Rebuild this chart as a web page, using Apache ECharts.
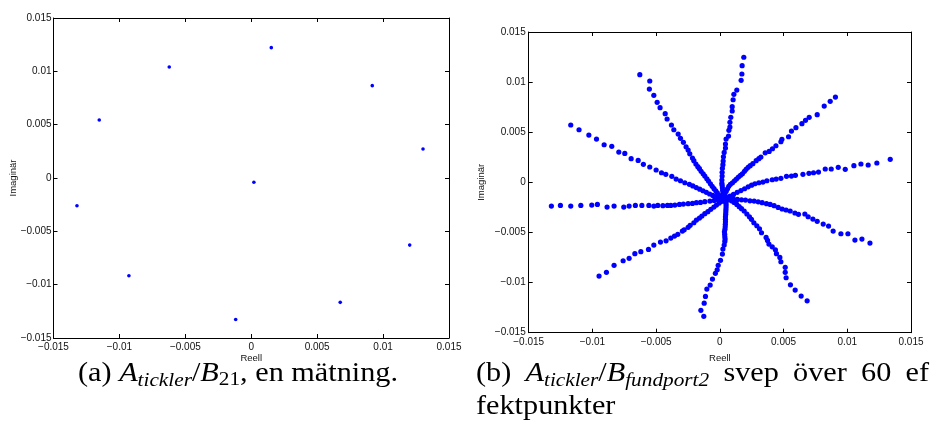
<!DOCTYPE html>
<html><head><meta charset="utf-8">
<script src="https://cdn.jsdelivr.net/npm/echarts@6/dist/echarts.min.js"></script>
<style>html,body{margin:0;padding:0;background:#fff}#c{width:930px;height:437px}</style>
</head><body><div id="c"></div>
<script>
// ---- tick labels / axis text ----
const tickValues = [-0.015, -0.01, -0.005, 0, 0.005, 0.01, 0.015];
const tickLabels = ['\u22120.015', '\u22120.01', '\u22120.005', '0', '0.005', '0.01', '0.015'];
const xName = 'Reell';
const yName = 'Imaginär';

// ---- (a) single measurement ----
const aReal = [0.00152, -0.00622, -0.01153, -0.01322, -0.00928, -0.00118, 0.00675, 0.01202, 0.01303, 0.00918, 0.0002];
const aImag = [0.01222, 0.01041, 0.00544, -0.0026, -0.00916, -0.01326, -0.01166, -0.00629, 0.00272, 0.00866, -0.0004];

// ---- (b) sweep over 60 operating points: one arm per measurement ----
const armA = [[-0.00628,0.01074],[-0.0055,0.01011],[-0.00553,0.00931],[-0.00518,0.00868],[-0.00492,0.00798],[-0.00469,0.00745],[-0.00429,0.00685],[-0.00414,0.00632],[-0.0038,0.00572],[-0.00361,0.00525],[-0.00327,0.00482],[-0.00309,0.00439],[-0.00286,0.00399],[-0.00265,0.00355],[-0.00249,0.00322],[-0.00236,0.00285],[-0.00215,0.00242],[-0.00204,0.00216],[-0.00188,0.00183],[-0.00173,0.00156],[-0.0016,0.00136],[-0.00147,0.0011],[-0.00131,0.00086],[-0.00118,0.00063],[-0.00102,0.00036],[-0.00089,0.00013],[-0.00074,-0.00014],[-0.0006,-0.0004],[-0.00046,-0.00063],[-0.00032,-0.00085],[-0.0002,-0.00106],[-0.00008,-0.00126],[0.00005,-0.00145],[0.00016,-0.0016],[0.00025,-0.00172]];
const armB = [[-0.0117,0.00572],[-0.01105,0.00525],[-0.01028,0.00472],[-0.00968,0.00432],[-0.00908,0.00375],[-0.00848,0.00359],[-0.00793,0.00302],[-0.00746,0.00289],[-0.00696,0.00236],[-0.00641,0.00219],[-0.006,0.0018],[-0.0055,0.00153],[-0.005,0.00123],[-0.00458,0.00096],[-0.00424,0.0008],[-0.00377,0.0006],[-0.00343,0.00033],[-0.00309,0.00016],[-0.00275,-0.00004],[-0.00239,-0.0002],[-0.00212,-0.00036],[-0.00185,-0.00052],[-0.00158,-0.00068],[-0.00132,-0.00084],[-0.00106,-0.001],[-0.0008,-0.00116],[-0.00055,-0.0013],[-0.0003,-0.00144],[-0.00007,-0.00157],[0.00013,-0.00166],[0.00028,-0.00172]];
const armC = [[-0.01322,-0.00237],[-0.01251,-0.0023],[-0.0117,-0.00237],[-0.01091,-0.0023],[-0.01005,-0.00227],[-0.00961,-0.0022],[-0.00885,-0.00247],[-0.0083,-0.00237],[-0.00754,-0.00247],[-0.00712,-0.00237],[-0.00663,-0.0023],[-0.00612,-0.0023],[-0.00557,-0.0023],[-0.00518,-0.00237],[-0.00487,-0.0023],[-0.00447,-0.00233],[-0.00411,-0.0023],[-0.00385,-0.0023],[-0.00353,-0.00227],[-0.00317,-0.0022],[-0.00286,-0.00217],[-0.00249,-0.00213],[-0.00215,-0.0021],[-0.00184,-0.00203],[-0.00152,-0.002],[-0.00118,-0.00193],[-0.00078,-0.00187],[-0.00045,-0.0018],[-0.00013,-0.00177],[0.0001,-0.00175],[0.0003,-0.0017]];
const armD = [[-0.00948,-0.00935],[-0.0089,-0.00898],[-0.0083,-0.00828],[-0.00759,-0.00782],[-0.00712,-0.00758],[-0.00667,-0.00712],[-0.0062,-0.00692],[-0.0056,-0.00669],[-0.00518,-0.00626],[-0.00466,-0.00596],[-0.00422,-0.00583],[-0.00385,-0.00556],[-0.00356,-0.00536],[-0.0033,-0.00519],[-0.00294,-0.00486],[-0.0028,-0.00473],[-0.00249,-0.00449],[-0.00233,-0.00429],[-0.00204,-0.00403],[-0.00184,-0.00376],[-0.0016,-0.00356],[-0.00141,-0.00336],[-0.00118,-0.00313],[-0.00094,-0.00293],[-0.00071,-0.00269],[-0.00047,-0.00247],[-0.00027,-0.00227],[-0.00005,-0.00207],[0.0001,-0.0019],[0.00022,-0.0018]];
const armE = [[-0.00126,-0.01337],[-0.00149,-0.01277],[-0.00123,-0.01205],[-0.00113,-0.01138],[-0.00102,-0.01065],[-0.00076,-0.01025],[-0.00058,-0.00965],[-0.00035,-0.00908],[-0.00021,-0.00872],[-0.00013,-0.00828],[0.00005,-0.00778],[0.0002,-0.00716],[0.00024,-0.00666],[0.00034,-0.00626],[0.00039,-0.00589],[0.00041,-0.00566],[0.00039,-0.00543],[0.00038,-0.00518],[0.00036,-0.00493],[0.0004,-0.00468],[0.00042,-0.00443],[0.00043,-0.00418],[0.00044,-0.00393],[0.00044,-0.00368],[0.00044,-0.00343],[0.00046,-0.00318],[0.00047,-0.00293],[0.00048,-0.00268],[0.00049,-0.00243],[0.00049,-0.00218],[0.00049,-0.00194],[0.00047,-0.00172],[0.00045,-0.0015]];
const armF = [[0.00685,-0.01182],[0.00638,-0.01135],[0.00591,-0.01075],[0.00554,-0.01022],[0.0052,-0.00952],[0.00513,-0.00898],[0.00513,-0.00848],[0.00479,-0.00792],[0.00471,-0.00749],[0.00444,-0.00712],[0.00436,-0.00673],[0.00411,-0.00643],[0.00385,-0.00616],[0.00374,-0.00579],[0.00363,-0.00549],[0.00327,-0.00503],[0.00311,-0.00463],[0.0029,-0.00433],[0.00267,-0.00403],[0.00248,-0.00369],[0.00232,-0.00343],[0.00212,-0.00316],[0.00191,-0.00286],[0.0017,-0.00263],[0.00152,-0.00243],[0.00133,-0.0022],[0.00112,-0.002],[0.00091,-0.00184],[0.00073,-0.0017],[0.00058,-0.00168],[0.00042,-0.00168]];
const armG = [[0.01178,-0.00606],[0.01115,-0.00566],[0.0106,-0.00576],[0.01005,-0.00513],[0.0095,-0.00513],[0.00889,-0.00486],[0.00853,-0.00436],[0.00811,-0.00416],[0.00764,-0.00389],[0.0073,-0.00366],[0.00693,-0.00343],[0.00667,-0.00316],[0.00617,-0.00319],[0.00589,-0.00306],[0.00552,-0.00286],[0.0052,-0.00276],[0.00489,-0.00266],[0.00458,-0.0025],[0.00426,-0.00233],[0.00395,-0.0022],[0.00366,-0.00213],[0.00332,-0.00203],[0.00301,-0.00194],[0.00269,-0.00187],[0.00236,-0.00184],[0.00201,-0.00177],[0.0017,-0.00174],[0.00138,-0.0017],[0.00107,-0.00167],[0.00079,-0.00164],[0.00058,-0.0016],[0.0004,-0.0016]];
const armH = [[0.01337,0.0023],[0.01232,0.00193],[0.01164,0.00173],[0.01107,0.00183],[0.01052,0.00166],[0.00984,0.0013],[0.00929,0.0015],[0.00874,0.00133],[0.00827,0.00133],[0.00774,0.00103],[0.00735,0.00096],[0.00699,0.0009],[0.00652,0.0008],[0.00593,0.0007],[0.00562,0.00063],[0.00523,0.0006],[0.00479,0.0004],[0.00442,0.00033],[0.00411,0.00026],[0.00369,0.00016],[0.00338,0.00003],[0.00306,-0.00004],[0.00275,-0.00014],[0.00249,-0.00028],[0.00222,-0.00045],[0.00194,-0.00064],[0.00165,-0.00082],[0.00136,-0.001],[0.00107,-0.0012],[0.0008,-0.00137],[0.00055,-0.00152],[0.00038,-0.00162]];
const armI = [[0.00907,0.00851],[0.00866,0.00808],[0.00819,0.00761],[0.00764,0.00675],[0.00701,0.00649],[0.00672,0.00619],[0.00644,0.00585],[0.00597,0.00545],[0.00562,0.00512],[0.00539,0.00455],[0.00487,0.00429],[0.00479,0.00405],[0.0044,0.00365],[0.00413,0.00335],[0.00387,0.00309],[0.00356,0.00295],[0.00322,0.00252],[0.00306,0.00236],[0.00285,0.00216],[0.00259,0.00186],[0.00238,0.00166],[0.00222,0.0015],[0.00206,0.0013],[0.00193,0.0011],[0.00177,0.00086],[0.00162,0.0007],[0.00146,0.00053],[0.0013,0.00033],[0.00115,0.00016],[0.00099,-0.00004],[0.00083,-0.0002],[0.0007,-0.0004],[0.0006,-0.00065],[0.0005,-0.0009],[0.0004,-0.00115],[0.00032,-0.0014],[0.00028,-0.0016]];
const armJ = [[0.00188,0.01248],[0.00175,0.01164],[0.00173,0.01081],[0.00167,0.01018],[0.00133,0.00921],[0.0011,0.00878],[0.00104,0.00824],[0.00097,0.00755],[0.00097,0.00712],[0.00086,0.00649],[0.00079,0.00599],[0.00079,0.00552],[0.00071,0.00519],[0.00068,0.00462],[0.00049,0.00432],[0.00044,0.00382],[0.00044,0.00342],[0.00034,0.00299],[0.00028,0.00255],[0.00026,0.00213],[0.00024,0.00176],[0.0002,0.0014],[0.00018,0.001],[0.00018,0.00063],[0.00016,0.00023],[0.00016,-0.0001],[0.00018,-0.0003],[0.0002,-0.00055],[0.00022,-0.0008],[0.00025,-0.00102],[0.00027,-0.00124],[0.0003,-0.00145],[0.00032,-0.00162]];
const armHub = [[0.0003,-0.0017],[0.0004,-0.0016],[0.0002,-0.0018],[0.0005,-0.0018],[0.0003,-0.0015],[0.0004,-0.0019],[0.0001,-0.0016],[0.0006,-0.0017]];
const sweepArms = [armA, armB, armC, armD, armE, armF, armG, armH, armI, armJ, armHub];

// ---- captions: [style, text] segments; 'sp' marks an inter-word space ----
const captionA = [['n','(a)'],['sp',''],['i','A'],['s','tickler'],['n','/'],['i','B'],['sn','21'],['n',','],['sp',''],['n','en'],['sp',''],['n','mätning.']];
const captionB1 = [['n','(b)'],['sp',''],['i','A'],['s','tickler'],['n','/'],['i','B'],['s','fundport2'],['sp',''],['n','svep'],['sp',''],['n','över'],['sp',''],['n','60'],['sp',''],['n','ef']];
const captionB2 = [['n','fektpunkter']];

const FS = 27, SFS = 19, SX = 1.12, FF = '"Liberation Serif"';
const fontOf = {n: FS + 'px ' + FF, i: 'italic ' + FS + 'px ' + FF, s: 'italic ' + SFS + 'px ' + FF, sn: SFS + 'px ' + FF};
const mctx = document.createElement('canvas').getContext('2d');
function measure(segs) {
  let w = 0, nsp = 0;
  segs.forEach(([k, t]) => { if (k === 'sp') nsp++; else { mctx.font = fontOf[k]; w += mctx.measureText(t).width; } });
  mctx.font = fontOf.n;
  return {w: w, nsp: nsp, space: mctx.measureText(' ').width};
}
function richText(segs, spaceW) {
  const base = {fontFamily: 'Liberation Serif', color: '#000', verticalAlign: 'bottom'};
  const rich = {
    n: Object.assign({fontSize: FS, padding: [0, 0, 3, 0]}, base),
    i: Object.assign({fontSize: FS, fontStyle: 'italic', padding: [0, 0, 3, 0]}, base),
    s: Object.assign({fontSize: SFS, fontStyle: 'italic'}, base),
    sn: Object.assign({fontSize: SFS}, base),
    sp: Object.assign({fontSize: FS, width: spaceW, padding: [0, 0, 3, 0]}, base)
  };
  const text = segs.map(([k, t]) => '{' + k + '|' + (k === 'sp' ? ' ' : t) + '}').join('');
  return {text: text, rich: rich};
}
const mA = measure(captionA);
const widthA = (mA.w + mA.nsp * mA.space) * SX;
const mB = measure(captionB1);
const spaceB = Math.max(mB.space, (453 / SX - mB.w) / mB.nsp);

const fmt = v => {
  for (let i = 0; i < tickValues.length; i++) if (Math.abs(tickValues[i] - v) < 1e-9) return tickLabels[i];
  return '';
};
const lab = {fontFamily: 'Liberation Sans', fontSize: 10, color: '#111'};
const nameStyle = {fontFamily: 'Liberation Sans', fontSize: 9.5, color: '#111'};
const line = {show: true, onZero: false, lineStyle: {color: '#000', width: 1}};
const tick = {show: true, inside: true, length: 4, lineStyle: {color: '#000', width: 1}};

function xAxes(g, margin, gap) {
  return [
    {type: 'value', gridIndex: g, position: 'bottom', min: -0.015, max: 0.015, interval: 0.005,
     axisLine: line, axisTick: tick, splitLine: {show: false},
     axisLabel: Object.assign({formatter: fmt, margin: margin, showMinLabel: true, showMaxLabel: true}, lab),
     name: xName, nameLocation: 'middle', nameGap: gap, nameMoveOverlap: false, nameTextStyle: nameStyle},
    {type: 'value', gridIndex: g, position: 'top', min: -0.015, max: 0.015, interval: 0.005,
     axisLine: line, axisTick: tick, splitLine: {show: false}, axisLabel: {show: false}}
  ];
}
function yAxes(g, margin, gap) {
  return [
    {type: 'value', gridIndex: g, position: 'left', min: -0.015, max: 0.015, interval: 0.005,
     axisLine: line, axisTick: tick, splitLine: {show: false},
     axisLabel: Object.assign({formatter: fmt, margin: margin, showMinLabel: true, showMaxLabel: true}, lab),
     name: yName, nameLocation: 'middle', nameRotate: 90, nameGap: gap, nameMoveOverlap: false, nameTextStyle: nameStyle},
    {type: 'value', gridIndex: g, position: 'right', min: -0.015, max: 0.015, interval: 0.005,
     axisLine: line, axisTick: tick, splitLine: {show: false}, axisLabel: {show: false}}
  ];
}

const series = [{
  type: 'scatter', xAxisIndex: 0, yAxisIndex: 0, symbol: 'circle', symbolSize: 3.6,
  itemStyle: {color: '#0000ff', opacity: 1}, data: aReal.map((x, i) => [x, aImag[i]])
}];
sweepArms.forEach(arm => series.push({
  type: 'scatter', xAxisIndex: 2, yAxisIndex: 2, symbol: 'circle', symbolSize: 5.2,
  itemStyle: {color: '#0000ff', opacity: 1}, data: arm
}));

const chart = echarts.init(document.getElementById('c'), null, {renderer: 'canvas'});
chart.setOption({
  animation: false,
  backgroundColor: '#fff',
  grid: [
    {left: 53.5, top: 18, width: 395.5, height: 320},
    {left: 528.7, top: 32, width: 382.3, height: 300.7}
  ],
  xAxis: xAxes(0, 4, 15).concat(xAxes(1, 5, 20.5)),
  yAxis: yAxes(0, 2, 35).concat(yAxes(1, 3, 42)),
  series: series,
  graphic: [
    {type: 'text', x: 238 - widthA / 2, y: 360, scaleX: SX, style: richText(captionA, mA.space)},
    {type: 'text', x: 476, y: 360, scaleX: SX, style: richText(captionB1, spaceB)},
    {type: 'text', x: 476, y: 393, scaleX: SX, style: richText(captionB2, mA.space)}
  ]
});
</script>
</body></html>
